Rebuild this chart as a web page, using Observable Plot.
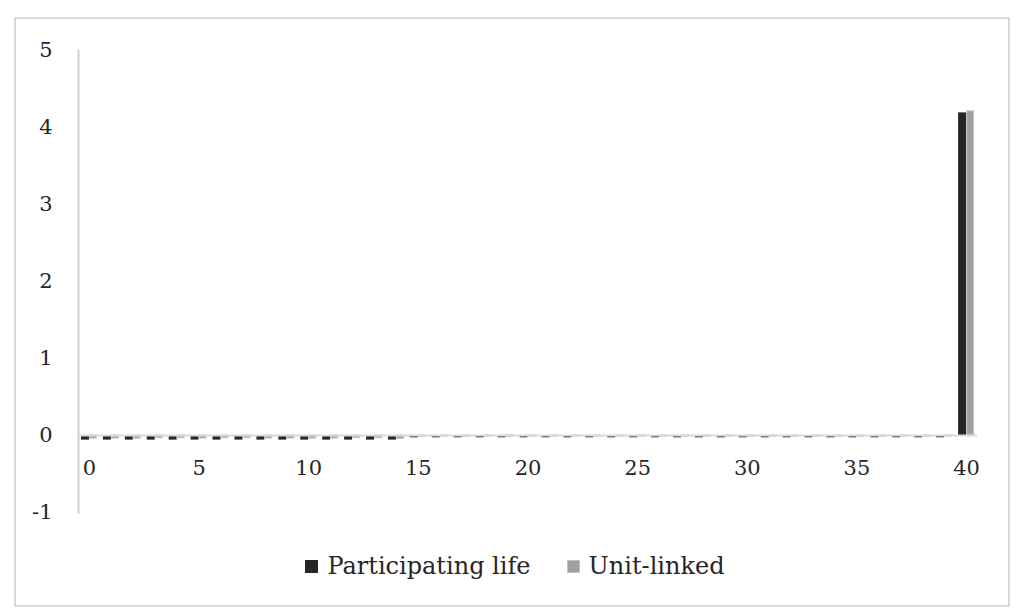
<!DOCTYPE html>
<html>
<head>
<meta charset="utf-8">
<script src="https://cdn.jsdelivr.net/npm/d3@7"></script>
<script src="https://cdn.jsdelivr.net/npm/@observablehq/plot@0.6"></script>
<style>
  html, body { margin: 0; padding: 0; background: #fff; }
  #wrap { position: relative; width: 1024px; height: 615px; overflow: hidden; font-family: "DejaVu Serif", serif; }
  #border { position: absolute; left: 14px; top: 17px; width: 992px; height: 586px; border: 2px solid #d9d9d9; pointer-events: none; }
  #chart { position: absolute; left: 0; top: 0; }
  #legend { position: absolute; left: 0; top: 552px; width: 1024px; display: flex; justify-content: center; align-items: center; font-size: 24px; color: #262626; padding-left: 6px; box-sizing: border-box; }
  .item { display: flex; align-items: center; margin: 0 18px; }
  .sw { width: 13px; height: 13px; margin-right: 9px; box-sizing: border-box; }
</style>
</head>
<body>
<div id="wrap">
  <div id="chart"></div>
  <div id="legend"></div>
  <div id="border"></div>
</div>
<script>
const categories = [0,1,2,3,4,5,6,7,8,9,10,11,12,13,14,15,16,17,18,19,20,21,22,23,24,25,26,27,28,29,30,31,32,33,34,35,36,37,38,39,40];
const participating = [-0.06,-0.06,-0.06,-0.06,-0.06,-0.06,-0.06,-0.06,-0.06,-0.06,-0.06,-0.06,-0.06,-0.06,-0.06,
  -0.03,-0.03,-0.03,-0.03,-0.03,-0.03,-0.03,-0.03,-0.03,-0.03,-0.03,-0.03,-0.03,-0.03,-0.03,-0.03,-0.03,-0.03,-0.03,-0.03,-0.03,-0.03,-0.03,-0.03,-0.03,
  4.19];
const unitLinked = [-0.04,-0.04,-0.04,-0.035,-0.035,-0.04,-0.035,-0.035,-0.04,-0.04,-0.04,-0.04,-0.035,-0.035,-0.045,
  -0.015,-0.015,-0.015,-0.015,-0.015,-0.015,-0.015,-0.015,-0.015,-0.015,-0.015,-0.015,-0.015,-0.015,-0.015,-0.015,-0.015,-0.015,-0.015,-0.015,-0.015,-0.015,-0.015,-0.015,-0.015,
  4.21];
const seriesNames = ["Participating life", "Unit-linked"];
const xTickLabels = [0, 5, 10, 15, 20, 25, 30, 35, 40];
const yTickLabels = [-1, 0, 1, 2, 3, 4, 5];

const dark = "#262626";
const grayFill = "#a0a0a0";
const grayStroke = "#c4c4c4";

const partData = categories.map((c, i) => ({cat: c, v: participating[i]}));
const unitData = categories.map((c, i) => ({cat: c, v: unitLinked[i]}));

const plot = Plot.plot({
  width: 1024,
  height: 540,
  marginLeft: 78,
  marginRight: 47,
  marginTop: 50,
  marginBottom: 28,
  style: {fontFamily: "DejaVu Serif, serif", background: "transparent", color: "#262626", overflow: "visible"},
  x: {type: "band", domain: categories, padding: 0, axis: null},
  y: {domain: [-1, 5], axis: null},
  marks: [
    Plot.barY(partData, {x: "cat", y: "v", fill: dark, insetLeft: 3, insetRight: 11}),
    Plot.barY(unitData, {x: "cat", y: "v", fill: grayFill, stroke: grayStroke, strokeWidth: 1, insetLeft: 11.5, insetRight: 3.5}),
    Plot.ruleY([0], {stroke: "#d9d9d9", strokeWidth: 2}),
    Plot.frame({anchor: "left", stroke: "#d0d0d0", strokeWidth: 2}),
    Plot.axisY({ticks: yTickLabels, tickSize: 0, tickPadding: 26, fontSize: 21, label: null, tickFormat: d => String(d), fill: "#262626"}),
    Plot.text(xTickLabels, {x: d => d, y: () => 0, dy: 33, text: d => String(d), fontSize: 21, fill: "#262626"})
  ]
});
document.getElementById("chart").appendChild(plot);

const legend = document.getElementById("legend");
const swatches = [
  {name: seriesNames[0], fill: dark, stroke: dark},
  {name: seriesNames[1], fill: grayFill, stroke: grayStroke}
];
for (const s of swatches) {
  const item = document.createElement("div");
  item.className = "item";
  const sw = document.createElement("div");
  sw.className = "sw";
  sw.style.background = s.fill;
  sw.style.border = "1px solid " + s.stroke;
  const label = document.createElement("span");
  label.textContent = s.name;
  item.appendChild(sw);
  item.appendChild(label);
  legend.appendChild(item);
}
</script>
</body>
</html>
